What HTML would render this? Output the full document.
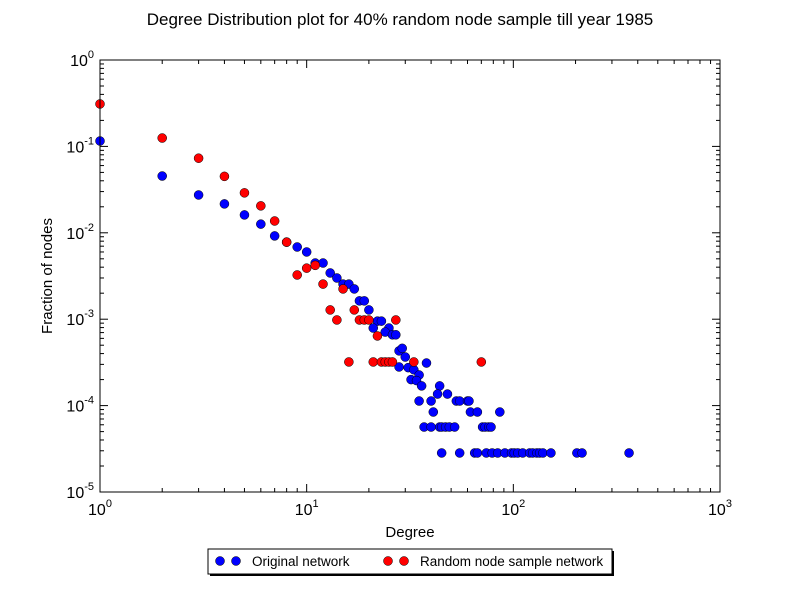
<!DOCTYPE html>
<html><head><meta charset="utf-8"><style>
body{margin:0;background:#fff;}
svg{display:block;font-family:"Liberation Sans",sans-serif;}
</style></head><body>
<svg id="chart" width="800" height="600" viewBox="0 0 800 600" xmlns="http://www.w3.org/2000/svg">
<rect width="800" height="600" fill="#fff"/>
<text x="400" y="25" text-anchor="middle" font-size="17">Degree Distribution plot for 40% random node sample till year 1985</text>
<text x="410" y="537" text-anchor="middle" font-size="15">Degree</text>
<text x="52" y="276" text-anchor="middle" font-size="15" transform="rotate(-90 52 276)">Fraction of nodes</text>
<g id="ticks"></g>
<g id="marks"></g>
<rect x="100" y="60" width="620" height="432" fill="none" stroke="#000" stroke-width="1"/>
<g>
<rect x="210" y="551" width="404" height="25" fill="#000"/>
<rect x="208" y="549" width="404" height="25" fill="#fff" stroke="#000" stroke-width="1"/>
<circle cx="220" cy="561" r="4.5" fill="#0000ff" stroke="#000" stroke-width="0.5"/>
<circle cx="236" cy="561" r="4.5" fill="#0000ff" stroke="#000" stroke-width="0.5"/>
<text x="252" y="566" font-size="13.5">Original network</text>
<circle cx="388" cy="561" r="4.5" fill="#ff0000" stroke="#000" stroke-width="0.5"/>
<circle cx="404" cy="561" r="4.5" fill="#ff0000" stroke="#000" stroke-width="0.5"/>
<text x="420" y="566" font-size="13.5">Random node sample network</text>
</g>
</svg>
<script>
const origDegree=[1,2,3,4,5,6,7,8,9,10,11,12,13,14,15,16,17,18,19,20,22,23,21,25,24,26,27,28,29,30,28,31,33,35,38,32,34,36,44,43,48,35,40,53,55,60,61,41,62,67,86,37,40,44,45,47,49,52,71,73,76,78,45,55,65,67,74,79,84,91,98,101,105,111,120,124,130,134,139,152,203,215,363];
const origFrac=[.1155,.0454,.0274,.0216,.0161,.0126,.0092,.0078,.00685,.006,.00447,.00447,.00343,.003,.00255,.00255,.00224,.00163,.00163,.00128,.00095,.00095,.00079,.00079,.00071,.00066,.00066,.00043,.00046,.000365,.00028,.000275,.00026,.000226,.000311,.0002,.000195,.000169,.000169,.000136,.000136,.000113,.000113,.000113,.000113,.000113,.000113,.0000843,.0000843,.0000843,.0000843,.0000565,.0000565,.0000565,.0000565,.0000565,.0000565,.0000565,.0000565,.0000565,.0000565,.0000565,.0000283,.0000283,.0000283,.0000283,.0000283,.0000283,.0000283,.0000283,.0000283,.0000283,.0000283,.0000283,.0000283,.0000283,.0000283,.0000283,.0000283,.0000283,.0000283,.0000283,.0000283];
const randDegree=[1,2,3,4,5,6,7,8,9,10,11,12,15,13,17,14,18,19,20,27,22,16,21,23,24,25,26,33,70];
const randFrac=[.31,.125,.073,.045,.029,.0205,.0137,.0078,.00325,.0039,.0042,.00255,.00224,.00128,.00128,.00098,.00098,.00098,.00098,.00098,.00064,.00032,.00032,.00032,.00032,.00032,.00032,.00032,.00032];
const xTickExp=[0,1,2,3];
const yTickExp=[0,-1,-2,-3,-4,-5];

const NS="http://www.w3.org/2000/svg";
const X0=100,X1=720,Y0=60,Y1=492;
function xs(v){return X0+(Math.log10(v)-0)/3*(X1-X0);}
function ys(v){return Y0+(0-Math.log10(v))/5*(Y1-Y0);}
function mk(tag,attrs,parent){const e=document.createElementNS(NS,tag);for(const k in attrs)e.setAttribute(k,attrs[k]);parent.appendChild(e);return e;}
const tg=document.getElementById('ticks');
function line(x1,y1,x2,y2){const l=mk('line',{x1:x1,y1:y1,x2:x2,y2:y2,stroke:'#000','stroke-width':1},tg);

}
xTickExp.forEach(e=>{
  const x=xs(Math.pow(10,e));
  line(x,Y1,x,Y1-8);line(x,Y0,x,Y0+8);
  const t=mk('text',{x:x,y:Y1+23,'text-anchor':'middle','font-size':16},tg);
  
  
  t.innerHTML='10<tspan dy="-8" font-size="11">'+e+'</tspan>';
  if(e<3)for(let m=2;m<10;m++){const xm=xs(m*Math.pow(10,e));line(xm,Y1,xm,Y1-4);line(xm,Y0,xm,Y0+4);}
});
yTickExp.forEach(e=>{
  const y=ys(Math.pow(10,e));
  line(X0,y,X0+8,y);line(X1,y,X1-8,y);
  const t=mk('text',{x:X0-6,y:y+6,'text-anchor':'end','font-size':16},tg);
  
  
  t.innerHTML='10<tspan dy="-8" font-size="11">'+e+'</tspan>';
  if(e>-5)for(let m=2;m<10;m++){const ym=ys(m*Math.pow(10,e-1));line(X0,ym,X0+4,ym);line(X1,ym,X1-4,ym);}
});
const mg=document.getElementById('marks');
origDegree.forEach((d,i)=>{const c=mk('circle',{cx:xs(d),cy:ys(origFrac[i]),r:4.5,fill:'#0000ff',stroke:'#000','stroke-width':0.5},mg);

});
randDegree.forEach((d,i)=>{const c=mk('circle',{cx:xs(d),cy:ys(randFrac[i]),r:4.5,fill:'#ff0000',stroke:'#000','stroke-width':0.5},mg);

});
</script>
</body></html>
